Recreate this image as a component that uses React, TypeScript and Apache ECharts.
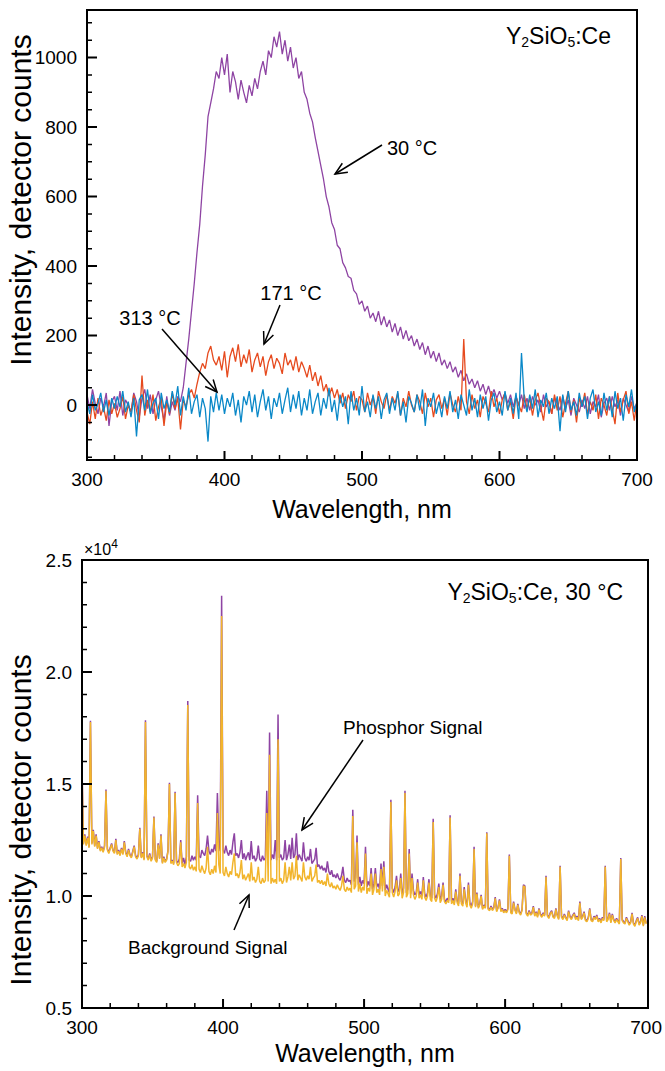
import React, { useEffect, useRef } from "react";
import * as echarts from "echarts";

const FONT = '"Liberation Sans", Arial, Helvetica, sans-serif';

// ---------- Top panel: Y2SiO5:Ce emission at three temperatures (2 nm sampling) ----------
const topStartNm = 300;
const topStepNm = 2;

const emission30C = [
  30, -10, 45, 5, -25, 20, -5, 35, -60, 10,
  25, -15, 40, -30, 15, 0, -20, 35, 10, -35,
  20, 45, -10, 30, -25, 15, 40, -5, -45, 25,
  -30, 10, -15, 25, 10, 50, 120, 190, 270, 350,
  440, 520, 630, 720, 830, 870, 910, 960, 940, 1000,
  950, 1010, 900, 960, 930, 880, 935, 900, 870, 920,
  890, 940, 910, 960, 990, 950, 1020, 1000, 1060, 1030,
  1075, 1010, 1050, 990, 1030, 970, 1000, 940, 960, 900,
  880, 840, 815, 770, 730, 690, 650, 600, 570, 525,
  505, 460, 450, 410, 395, 370, 365, 330, 320, 290,
  300, 270, 285, 250, 265, 240, 270, 230, 255, 225,
  245, 210, 235, 200, 225, 190, 215, 185, 200, 170,
  190, 160, 180, 145, 170, 135, 155, 125, 150, 115,
  130, 105, 125, 95, 110, 80, 100, 70, 90, 60,
  75, 50, 70, 40, 60, 30, 55, 25, 45, 20,
  40, 15, 35, 5, 30, -5, 25, 0, 30, -10,
  20, -15, 25, 0, 15, -20, 30, -5, 10, -25,
  20, 5, -15, 25, -10, 15, -30, 20, 0, -20,
  15, -10, 25, -25, 10, -5, 30, -35, 5, 20,
  -15, 25, -5, 15, -30, 20, 0, -20, 25, -10,
  5,
];

const emission171C = [
  -20, -55, 10, -40, 20, -30, -5, -45, 15, -25,
  5, -35, -10, 25, -40, 0, -20, 30, -15, -50,
  85, -30, 15, -20, 30, -45, -5, 20, -60, 10,
  -25, 35, -10, 20, -70, 15, -5, 30, 45, 20,
  60, 95, 120, 105, 150, 170, 130, 115, 140, 100,
  155, 80, 140, 165, 125, 175, 110, 145, 120, 160,
  95, 130, 150, 110, 140, 85, 125, 145, 105, 135,
  120, 90, 150, 115, 130, 100, 140, 95, 125, 105,
  80, 115, 70, 95, 55, 85, 40, 60, 25, 50,
  20, 45, 5, 35, -10, 30, 10, 40, -15, 25,
  15, -20, 35, 0, 25, -25, 40, 10, -10, 30,
  -15, 25, 5, 35, -30, 20, -5, 40, 0, -20,
  30, 10, -25, 35, -5, 20, -35, 15, 30, -10,
  20, -30, 35, 0, -20, 25, -15, 190, 10, -25,
  30, -10, 15, -35, 25, 5, -20, 40, -5, 20,
  -25, 15, 35, -15, 10, -40, 25, 0, -20, 30,
  -10, 20, -30, 15, 35, -5, -45, 20, 10, -25,
  30, -15, 25, -35, 5, 40, -20, 15, -50, 20,
  -5, 35, -25, 10, -15, 30, -40, 20, 0, -30,
  25, -10, -55, 35, -20, 15, 40, -25, 10, -45,
  15,
];

const emission313C = [
  10, -25, 30, -15, 5, 35, -20, 15, -30, 20,
  -10, 25, -5, 40, -20, 10, -35, 20, -90, 15,
  30, -15, 45, -25, 5, 20, -40, 35, -10, 15,
  -20, 40, 0, 55, -30, 25, -15, 50, -25, 10,
  30, -35, 20, -10, -105, 25, -20, 35, -15, 30,
  -25, 20, -5, 35, -30, 15, -50, 25, 0, 40,
  -20, 30, -35, 10, 45, -15, 25, -40, 20, -5,
  35, -25, 15, 50, -20, 30, -10, 40, -30, 20,
  -15, 45, -25, 10, 35, -30, 20, -10, 50, -20,
  15, -45, 30, -5, 25, -55, 40, -15, 20, -30,
  55, -20, 10, -35, 30, -10, 25, -40, 15, 35,
  -25, 20, -15, 40, -30, 10, -50, 25, 5, -20,
  30, -15, 45, -60, 20, -5, 35, -25, 10, -35,
  25, -10, 40, -20, 15, -40, 30, 0, -30, 45,
  -15, 20, -35, 30, -10, 25, -45, 15, 35, -20,
  10, -30, 40, -15, 20, -25, 35, -40, 150, 15,
  -20, 30, -10, 45, -35, 15, -5, 35, -25, 20,
  -10, 25, -75, 30, -20, 40, -15, 10, -30, 35,
  -5, 25, -40, 20, 45, -20, 10, -30, 35, -15,
  25, -35, 40, -10, 20, -45, 30, -5, 45, -20,
  10,
];

// ---------- Bottom panel: raw detector signal at 30 C (1 nm sampling) ----------
const botStartNm = 300;
const botStepNm = 1;

const backgroundSignal = [
  15800, 12300, 12700, 12250, 12600, 12150, 17770, 12300, 12900, 12200,
  12700, 12100, 12400, 12000, 12150, 11950, 12200, 14700, 12050, 11900,
  12100, 12300, 12000, 11900, 12500, 11850, 12000, 11800, 12100, 11850,
  12400, 11900, 11750, 12050, 11800, 11700, 11950, 12200, 11750, 11650,
  11800, 13000, 11700, 11900, 11600, 17770, 11750, 11600, 11850, 11550,
  11700, 13500, 11600, 11500, 12300, 11650, 12700, 11450, 11700, 11500,
  11600, 12000, 15000, 11450, 11550, 11400, 14600, 11500, 11350, 11450,
  12400, 11300, 11450, 11250, 11500, 18530, 11300, 11200, 11400, 11150,
  11300, 11100, 14150, 11200, 11050, 11350, 11150, 11000, 11250, 12200,
  11100, 10950, 11200, 11000, 11350, 11050, 13700, 11400, 11000, 22500,
  11050, 10900, 11300, 11000, 10850, 11100, 10950, 11500, 11900, 10900,
  11000, 10800, 11050, 11600, 10750, 10950, 10700, 10850, 11000, 10650,
  11500, 10700, 10850, 10600, 10750, 11300, 10650, 10550, 10800, 10600,
  10700, 13700, 10650, 16300, 10550, 10800, 10600, 10750, 10550, 17000,
  10650, 10800, 10550, 10700, 11500, 10600, 10850, 11300, 10700, 11500,
  10750, 10900, 11800, 10700, 10950, 10800, 10650, 11500, 10850, 10700,
  10900, 10750, 11300, 10650, 10800, 10900, 11400, 10600, 10700, 10550,
  10700, 10500, 10650, 10450, 11000, 10550, 10400, 10600, 10350, 10450,
  10300, 10500, 10350, 10250, 10450, 10900, 10300, 10200, 10400, 10250,
  10350, 10150, 13570, 10300, 10450, 12400, 10200, 10550, 10150, 10400,
  10250, 11900, 10100, 10350, 10200, 11000, 10050, 10300, 11000, 10150,
  10300, 10050, 11200, 10200, 11300, 10000, 10250, 10100, 9950, 14200,
  10150, 9950, 10200, 10700, 10000, 10100, 10800, 9900, 10150, 14600,
  9950, 10100, 11900, 9900, 10800, 10050, 9850, 10000, 10600, 9900,
  10050, 9850, 10700, 9950, 9800, 10000, 10600, 9850, 9750, 13300,
  9900, 9750, 9950, 10400, 9700, 9850, 10500, 9750, 9650, 9800,
  9700, 13500, 9650, 9800, 9600, 10200, 9700, 9550, 10900, 9650,
  9550, 10300, 9700, 9500, 10500, 9600, 9450, 9650, 12100, 9500,
  10100, 9450, 9600, 10000, 9400, 9550, 9450, 12800, 9400, 9350,
  9500, 9350, 9450, 9900, 9300, 9450, 9800, 9300, 9400, 9250,
  9350, 9250, 9400, 11800, 9250, 9200, 9700, 9350, 9200, 9600,
  9250, 9150, 9350, 10450, 10400, 9200, 9100, 9300, 9150, 9200,
  9500, 9100, 9250, 9050, 9400, 9150, 9050, 9200, 9100, 10850,
  9100, 9000, 9200, 9300, 9050, 9000, 9400, 9100, 8950, 11300,
  9050, 8950, 9150, 9000, 8900, 9300, 9050, 8950, 9100, 9200,
  8950, 9050, 8900, 9700, 8950, 9050, 9250, 8900, 8850, 9000,
  9400, 8900, 8850, 9050, 8950, 9100, 8850, 8950, 8800, 9000,
  8900, 11300, 8850, 8950, 9200, 8800, 9150, 8900, 8800, 8950,
  8850, 8750, 11650, 8900, 8800, 8750, 9000, 8850, 8700, 8800,
  9200, 8750, 8650, 8850, 9000, 8700, 8800, 9100, 8650, 9050,
  8750,
];

const phosphorSignal = [
  15850, 12350, 12750, 12300, 12650, 12200, 17820, 12350, 12950, 12250,
  12750, 12150, 12450, 12050, 12200, 12000, 12250, 14750, 12100, 11950,
  12150, 12350, 12050, 11950, 12550, 11900, 12050, 11850, 12150, 11900,
  12450, 11950, 11800, 12100, 11850, 11750, 12000, 12250, 11800, 11700,
  11850, 13050, 11750, 11950, 11650, 17850, 11800, 11650, 11900, 11600,
  11750, 13550, 11650, 11550, 12350, 11700, 12750, 11500, 11750, 11550,
  11650, 12050, 15050, 11500, 11600, 11450, 14650, 11550, 11500, 11650,
  12500, 11450, 11700, 11400, 11750, 18700, 11600, 11550, 11800, 11600,
  11750, 11600, 14500, 11800, 11700, 12050, 11900, 11800, 12100, 12700,
  12000, 11850, 12100, 11950, 12300, 12000, 14600, 12400, 12000, 23400,
  12050, 11900, 12250, 11950, 11800, 12050, 11850, 12400, 12800, 11800,
  11900, 11700, 11950, 12500, 11650, 11900, 11600, 11800, 11950, 11600,
  12450, 11650, 11800, 11550, 11700, 12250, 11650, 11550, 11800, 11600,
  11700, 14700, 11700, 17300, 11600, 11850, 11650, 12500, 11600, 18100,
  11700, 11850, 11600, 11700, 12500, 11600, 11850, 12300, 11650, 12600,
  11700, 11850, 12800, 11600, 11850, 11700, 11550, 12400, 11700, 11550,
  11750, 11600, 12100, 11450, 11550, 11650, 12150, 11300, 11400, 11200,
  11350, 11150, 11250, 11050, 11550, 11100, 10950, 11150, 10850, 10950,
  10800, 11000, 10800, 10700, 10900, 11300, 10700, 10600, 10800, 10650,
  10700, 10500, 13850, 10650, 10800, 12700, 10500, 10850, 10450, 10700,
  10550, 12200, 10400, 10650, 10450, 11250, 10300, 10550, 11250, 10400,
  10550, 10300, 11450, 10450, 11550, 10250, 10500, 10300, 10150, 14300,
  10350, 10150, 10400, 10900, 10200, 10300, 11000, 10100, 10350, 14700,
  10150, 10300, 12100, 10100, 11000, 10250, 10050, 10150, 10750, 10050,
  10200, 10000, 10850, 10100, 9950, 10150, 10750, 10000, 9900, 13450,
  10050, 9900, 10100, 10550, 9850, 10000, 10600, 9850, 9750, 9900,
  9800, 13600, 9750, 9900, 9700, 10300, 9800, 9650, 11000, 9750,
  9650, 10400, 9800, 9600, 10600, 9700, 9550, 9750, 12200, 9550,
  10150, 9500, 9650, 10050, 9450, 9600, 9500, 12850, 9450, 9400,
  9550, 9400, 9500, 9950, 9350, 9500, 9850, 9350, 9450, 9300,
  9400, 9300, 9450, 11850, 9300, 9250, 9750, 9400, 9250, 9650,
  9300, 9200, 9400, 10500, 10450, 9250, 9150, 9350, 9200, 9250,
  9550, 9150, 9300, 9100, 9450, 9200, 9100, 9250, 9150, 10900,
  9150, 9050, 9250, 9350, 9100, 9050, 9450, 9150, 9000, 11350,
  9100, 9000, 9200, 9050, 8950, 9350, 9100, 9000, 9150, 9250,
  9000, 9100, 8950, 9750, 9000, 9100, 9300, 8950, 8900, 9050,
  9450, 8950, 8900, 9100, 9000, 9150, 8900, 9000, 8850, 9050,
  8950, 11350, 8900, 9000, 9250, 8850, 9200, 8950, 8850, 9000,
  8900, 8800, 11700, 8950, 8850, 8800, 9050, 8900, 8750, 8850,
  9250, 8800, 8700, 8900, 9050, 8750, 8850, 9150, 8700, 9100,
  8800,
];

// ---------- Axis / tick settings ----------
const xMin = 300;
const xMax = 700;
const xMajor = 100;
const xMinor = 20;
const topYMin = -158;
const topYMax = 1137;
const topYMajor = 200;
const topYMinor = 50;
const botYMin = 5000;
const botYMax = 25000;
const botYMajor = 5000;
const botYMinor = 1000;

const COLORS = {
  c30: "#8e44a3",
  c171: "#e64a1e",
  c313: "#0a88c8",
  phosphor: "#8e44a3",
  background: "#f2b52c",
};

const GRID_TOP = { left: 87, top: 10, width: 550, height: 450 };
const GRID_BOT = { left: 82, top: 560, width: 566, height: 448 };

const toPairs = (vals: number[], start: number, step: number) =>
  vals.map((v, i) => [start + i * step, v]);

// Tick marks as short segments in data space (length given in pixels, converted via axis range / grid size)
function tickSegments(
  grid: { width: number; height: number },
  yMin: number,
  yMax: number,
  yStep: number,
  yMajor: number,
  wantMajor: boolean,
  xLenPx: number,
  yLenPx: number
) {
  const ux = (xMax - xMin) / grid.width;
  const uy = (yMax - yMin) / grid.height;
  const out: any[] = [];
  for (let v = xMin + xMinor; v < xMax; v += xMinor) {
    const isMajor = v % xMajor === 0;
    if (isMajor !== wantMajor) continue;
    out.push([v, yMin], [v, yMin + xLenPx * uy], [v, null]);
  }
  for (let v = Math.ceil(yMin / yStep) * yStep; v < yMax; v += yStep) {
    if (v <= yMin) continue;
    const isMajor = v % yMajor === 0;
    if (isMajor !== wantMajor) continue;
    out.push([xMin, v], [xMin + yLenPx * ux, v], [null, v]);
  }
  return out;
}

function arrow(x1: number, y1: number, x2: number, y2: number) {
  const ang = Math.atan2(y1 - y2, x1 - x2);
  const L = 13;
  const a = 0.42;
  const p1 = [x2 + L * Math.cos(ang + a), y2 + L * Math.sin(ang + a)];
  const p2 = [x2 + L * Math.cos(ang - a), y2 + L * Math.sin(ang - a)];
  return [
    { type: "line", z: 20, shape: { x1, y1, x2, y2 }, style: { stroke: "#000", lineWidth: 1.5 } },
    {
      type: "polyline",
      z: 20,
      shape: { points: [p1, [x2, y2], p2] },
      style: { stroke: "#000", lineWidth: 1.5, fill: "none" },
    },
  ];
}

function txt(text: string, x: number, y: number, size: number, align: string, extra: any = {}) {
  return {
    type: "text",
    x,
    y,
    z: 20,
    ...extra,
    style: {
      text,
      fontSize: size,
      fontFamily: FONT,
      fill: "#000",
      align,
      verticalAlign: "middle",
      textAlign: align,
      textVerticalAlign: "middle",
      ...(extra.style || {}),
    },
  };
}

function frame(g: { left: number; top: number; width: number; height: number }) {
  return {
    type: "rect",
    z: 30,
    silent: true,
    shape: { x: g.left, y: g.top, width: g.width, height: g.height },
    style: { stroke: "#000", lineWidth: 2, fill: "none" },
  };
}

export default function App() {
  const ref = useRef<HTMLDivElement>(null);

  useEffect(() => {
    document.body.style.margin = "0";
    if (!ref.current) return;
    const chart = echarts.init(ref.current, undefined, { renderer: "svg" });

    const subRich = {
      sub: { fontSize: 14, lineHeight: 12, verticalAlign: "bottom", fontFamily: FONT },
    };

    const xAxisCfg = {
      type: "value",
      min: xMin,
      max: xMax,
      interval: xMajor,
      axisLine: { show: true, onZero: false, lineStyle: { color: "#000", width: 2 } },
      splitLine: { show: false },
      axisTick: { show: false },
      axisLabel: { show: true, fontSize: 19, color: "#000", fontFamily: FONT, margin: 10 },
    };

    const dataSeries = [
      { name: "30 °C", data: toPairs(emission30C, topStartNm, topStepNm), color: COLORS.c30, xAxisIndex: 0, yAxisIndex: 0, w: 1.3 },
      { name: "171 °C", data: toPairs(emission171C, topStartNm, topStepNm), color: COLORS.c171, xAxisIndex: 0, yAxisIndex: 0, w: 1.3 },
      { name: "313 °C", data: toPairs(emission313C, topStartNm, topStepNm), color: COLORS.c313, xAxisIndex: 0, yAxisIndex: 0, w: 1.3 },
      { name: "Phosphor Signal", data: toPairs(phosphorSignal, botStartNm, botStepNm), color: COLORS.phosphor, xAxisIndex: 1, yAxisIndex: 1, w: 1.5 },
      { name: "Background Signal", data: toPairs(backgroundSignal, botStartNm, botStepNm), color: COLORS.background, xAxisIndex: 1, yAxisIndex: 1, w: 1.5 },
    ].map(({ w, ...s }) => ({
      ...s,
      type: "line",
      showSymbol: false,
      symbol: "none",
      clip: true,
      lineStyle: { width: w, color: s.color },
    }));

    const tickSeries = [
      { grid: GRID_TOP, idx: 0, yMin: topYMin, yMax: topYMax, yStep: topYMinor, yMajor: topYMajor },
      { grid: GRID_BOT, idx: 1, yMin: botYMin, yMax: botYMax, yStep: botYMinor, yMajor: botYMajor },
    ].flatMap((t) =>
      [true, false].map((major) => ({
        name: "axis ticks",
        type: "line",
        xAxisIndex: t.idx,
        yAxisIndex: t.idx,
        z: 6,
        silent: true,
        showSymbol: false,
        symbol: "none",
        connectNulls: false,
        clip: false,
        lineStyle: { color: "#000", width: major ? 2 : 1.5, cap: "butt" },
        data: tickSegments(t.grid, t.yMin, t.yMax, t.yStep, t.yMajor, major, major ? 9 : 5, major ? 10 : 5),
      }))
    );

    const option: any = {
      animation: false,
      backgroundColor: "#fff",
      grid: [
        { ...GRID_TOP, show: false },
        { ...GRID_BOT, show: false },
      ],
      xAxis: [
        { ...xAxisCfg, gridIndex: 0 },
        { ...xAxisCfg, gridIndex: 1 },
      ],
      yAxis: [
        {
          type: "value",
          gridIndex: 0,
          min: topYMin,
          max: topYMax,
          splitNumber: 6,
          axisLine: { show: true, onZero: false, lineStyle: { color: "#000", width: 2 } },
          splitLine: { show: false },
          axisTick: { show: false },
          axisLabel: {
            show: true,
            fontSize: 19,
            color: "#000",
            fontFamily: FONT,
            margin: 10,
            showMinLabel: false,
            showMaxLabel: false,
            formatter: (v: number) => (v % topYMajor === 0 ? String(v) : ""),
          },
        },
        {
          type: "value",
          gridIndex: 1,
          min: botYMin,
          max: botYMax,
          interval: botYMajor,
          axisLine: { show: true, onZero: false, lineStyle: { color: "#000", width: 2 } },
          splitLine: { show: false },
          axisTick: { show: false },
          axisLabel: {
            show: true,
            fontSize: 19,
            color: "#000",
            fontFamily: FONT,
            margin: 10,
            formatter: (v: number) => (v / 10000).toFixed(1),
          },
        },
      ],
      series: [...dataSeries, ...tickSeries],
      graphic: [
        frame(GRID_TOP),
        frame(GRID_BOT),
        txt("Wavelength, nm", 362, 509, 25, "center"),
        txt("Wavelength, nm", 365, 1053, 25, "center"),
        txt("Intensity, detector counts", 20, 200, 30, "center", { rotation: Math.PI / 2 }),
        txt("Intensity, detector counts", 20, 820, 30, "center", { rotation: Math.PI / 2 }),
        txt("Y{sub|2}SiO{sub|5}:Ce", 611, 36, 23, "right", { style: { lineHeight: 26, rich: subRich } }),
        txt("Y{sub|2}SiO{sub|5}:Ce, 30 °C", 623, 592, 23, "right", { style: { lineHeight: 26, rich: subRich } }),
        txt("×10{sup|4}", 84, 549, 16, "left", {
          style: { lineHeight: 22, rich: { sup: { fontSize: 12, lineHeight: 12, verticalAlign: "top", fontFamily: FONT } } },
        }),
        txt("30 °C", 387, 148, 20, "left"),
        txt("171 °C", 291, 293, 20, "center"),
        txt("313 °C", 150, 318, 20, "center"),
        txt("Phosphor Signal", 343, 727, 19, "left"),
        txt("Background Signal", 128, 947, 19, "left"),
        ...arrow(382, 145, 335, 174),
        ...arrow(280, 305, 264, 344),
        ...arrow(162, 329, 217, 392),
        ...arrow(363, 740, 302, 830),
        ...arrow(234, 930, 249, 895),
      ],
    };

    chart.setOption(option);
    return () => chart.dispose();
  }, []);

  return <div ref={ref} style={{ width: 665, height: 1071 }} />;
}
